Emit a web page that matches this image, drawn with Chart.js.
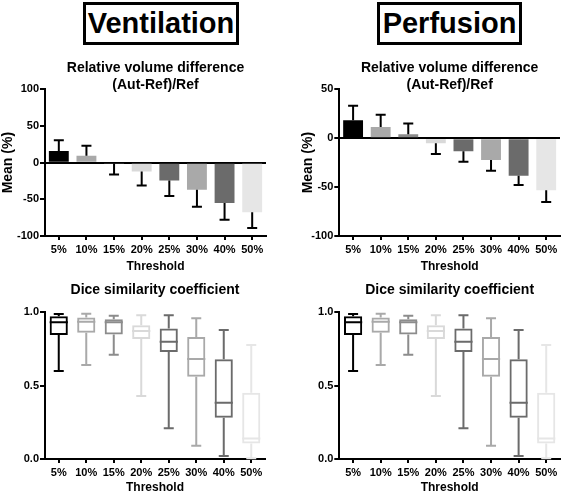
<!DOCTYPE html>
<html><head><meta charset="utf-8">
<script src="https://cdn.jsdelivr.net/npm/chart.js@4.4.0/dist/chart.umd.min.js"></script>
<style>
html,body{margin:0;padding:0;background:#fff;width:567px;height:496px;overflow:hidden;position:relative;font-family:"Liberation Sans",Arial,Helvetica,sans-serif;}
.hdr{position:absolute;top:2px;height:43px;box-sizing:border-box;border:3px solid #000;font-weight:bold;font-size:29px;line-height:37px;text-align:center;color:#000;}
canvas{position:absolute;}
</style></head><body>
<div class="hdr" style="left:83px;width:156px">Ventilation</div>
<div class="hdr" style="left:377px;width:145px">Perfusion</div>
<canvas id="c1" width="283" height="225" style="left:0;top:50px"></canvas>
<canvas id="c2" width="284" height="225" style="left:283px;top:50px"></canvas>
<canvas id="c3" width="283" height="221" style="left:0;top:275px"></canvas>
<canvas id="c4" width="284" height="221" style="left:283px;top:275px"></canvas>
<script>
// ---------- data ----------
const thresholds = ['5%','10%','15%','20%','25%','30%','40%','50%'];
const ventMean = [16, 9.5, -1, -12, -24.5, -37, -55, -67.5];
const ventSD   = [14.5, 13.5, 15, 19, 21, 23, 23, 21.5];
const perfMean = [18.3, 11.5, 4, -5.2, -13.4, -22.3, -38.3, -53.3];
const perfSD   = [15, 12.5, 11, 11, 10.6, 11, 9.5, 12];
const ventDiceMin = [0.60, 0.64, 0.71, 0.43, 0.21, 0.09, 0.02, 0.005];
const ventDiceQ1  = [0.845, 0.86, 0.848, 0.818, 0.73, 0.561, 0.282, 0.105];
const ventDiceMed = [0.932, 0.936, 0.932, 0.872, 0.80, 0.682, 0.384, 0.139];
const ventDiceQ3  = [0.973, 0.964, 0.953, 0.911, 0.89, 0.832, 0.68, 0.452];
const ventDiceMax = [0.988, 0.99, 0.977, 0.98, 0.98, 0.96, 0.88, 0.777];
const perfDiceMin = [0.60, 0.64, 0.71, 0.43, 0.21, 0.09, 0.02, 0.005];
const perfDiceQ1  = [0.845, 0.86, 0.848, 0.818, 0.73, 0.561, 0.282, 0.105];
const perfDiceMed = [0.932, 0.936, 0.932, 0.872, 0.80, 0.682, 0.384, 0.139];
const perfDiceQ3  = [0.973, 0.964, 0.953, 0.911, 0.89, 0.832, 0.68, 0.452];
const perfDiceMax = [0.988, 0.99, 0.977, 0.98, 0.98, 0.96, 0.88, 0.777];
const shades = ['#000000','#a9a9a9','#8c8c8c','#d9d9d9','#6b6b6b','#a9a9a9','#6b6b6b','#e6e6e6'];

const FONT = "'Liberation Sans', Arial, Helvetica, sans-serif";

// ---------- plugins ----------
const errorBars = {
  id: 'errorBars',
  afterDatasetsDraw(chart, args, opts) {
    if (!opts || !opts.sd) return;
    const meta = chart.getDatasetMeta(0);
    const ys = chart.scales.y, ctx = chart.ctx;
    const vals = chart.data.datasets[0].data;
    ctx.save();
    ctx.strokeStyle = '#000'; ctx.lineWidth = 2;
    meta.data.forEach((bar, i) => {
      const m = vals[i];
      const end = m + (m >= 0 ? 1 : -1) * opts.sd[i];
      const y0 = ys.getPixelForValue(m), y1 = ys.getPixelForValue(end);
      ctx.beginPath();
      ctx.moveTo(bar.x, y0); ctx.lineTo(bar.x, y1);
      ctx.moveTo(bar.x - 5, y1); ctx.lineTo(bar.x + 5, y1);
      ctx.stroke();
    });
    ctx.restore();
  }
};
const boxParts = {
  id: 'boxParts',
  afterDatasetsDraw(chart, args, opts) {
    if (!opts || !opts.med) return;
    const meta = chart.getDatasetMeta(0);
    const ys = chart.scales.y, ctx = chart.ctx;
    const vals = chart.data.datasets[0].data;
    ctx.save(); ctx.lineWidth = 2;
    meta.data.forEach((el, i) => {
      ctx.strokeStyle = shades[i];
      const half = el.width / 2;
      const yMed = ys.getPixelForValue(opts.med[i]);
      const yQ1 = ys.getPixelForValue(vals[i][0]);
      const yQ3 = ys.getPixelForValue(vals[i][1]);
      const yMin = ys.getPixelForValue(opts.min[i]);
      const yMax = ys.getPixelForValue(opts.max[i]);
      ctx.beginPath();
      ctx.moveTo(el.x - half, yMed); ctx.lineTo(el.x + half, yMed);
      ctx.moveTo(el.x, yQ3); ctx.lineTo(el.x, yMax);
      ctx.moveTo(el.x - 5, yMax); ctx.lineTo(el.x + 5, yMax);
      ctx.moveTo(el.x, yQ1); ctx.lineTo(el.x, yMin);
      ctx.moveTo(el.x - 5, yMin); ctx.lineTo(el.x + 5, yMin);
      ctx.stroke();
    });
    ctx.restore();
  }
};

// ---------- helpers ----------
function xScale(h) {
  return {
    type: 'category',
    ticks: { color: '#000', font: { family: FONT, weight: 'bold', size: 11 }, padding: 3, maxRotation: 0, autoSkip: false },
    grid: { offset: false, drawOnChartArea: false, tickColor: '#000', tickLength: 4, tickWidth: 2, lineWidth: 2, color: '#000' },
    border: { display: true, color: '#000', width: 2 },
    title: { display: true, text: 'Threshold', color: '#000', font: { family: FONT, weight: 'bold', size: 12 }, padding: { top: 0, bottom: 1 } },
    afterFit(s) { s.height = h; }
  };
}
function yScale(min, max, step, w, zeroLine, title, fmt) {
  return {
    min: min, max: max,
    ticks: { stepSize: step, color: '#000', font: { family: FONT, weight: 'bold', size: 11 }, padding: 1,
             callback: fmt || (v => v) },
    grid: { color: c => (zeroLine && c.tick && c.tick.value === 0) ? '#000' : 'rgba(0,0,0,0)',
            lineWidth: 2, tickColor: '#000', tickLength: 5, tickWidth: 2 },
    border: { display: true, color: '#000', width: 2 },
    title: { display: !!title, text: title || '', color: '#000', font: { family: FONT, weight: 'bold', size: 14 }, padding: 0 },
    afterFit(s) { s.width = w; }
  };
}
function titleOpts(text, pt, pb) {
  return { display: true, text: text, fullSize: false, color: '#000',
           font: { family: FONT, weight: 'bold', size: 14, lineHeight: '17px' },
           padding: { top: pt, bottom: pb } };
}

function barChart(id, means, sds, ymax, padL, padR, yW) {
  return new Chart(document.getElementById(id), {
    type: 'bar',
    data: { labels: thresholds, datasets: [{ data: means, backgroundColor: shades, borderWidth: 0,
            categoryPercentage: 1, barPercentage: 0.72 }] },
    options: {
      responsive: false, animation: false, devicePixelRatio: 1,
      layout: { padding: { left: padL, right: padR, top: 0, bottom: 0 } },
      plugins: { legend: { display: false }, tooltip: { enabled: false },
                 title: titleOpts(['Relative volume difference', '(Aut-Ref)/Ref'], 9.5, -4.2),
                 errorBars: { sd: sds } },
      scales: { x: xScale(39), y: yScale(-100, ymax, 50, yW, true, 'Mean (%)') }
    },
    plugins: [errorBars]
  });
}
function boxChart(id, q1, q3, med, mn, mx, padR, yW) {
  const boxes = q1.map((v, i) => [v, q3[i]]);
  return new Chart(document.getElementById(id), {
    type: 'bar',
    data: { labels: thresholds, datasets: [{ data: boxes, backgroundColor: 'rgba(255,255,255,0)', borderColor: shades,
            borderWidth: 2, borderSkipped: false, categoryPercentage: 1, barPercentage: 0.66 }] },
    options: {
      responsive: false, animation: false, devicePixelRatio: 1,
      layout: { padding: { left: 0, right: padR, top: 0, bottom: 0 } },
      plugins: { legend: { display: false }, tooltip: { enabled: false },
                 title: titleOpts('Dice similarity coefficient', 6.5, 13.8),
                 boxParts: { med: med, min: mn, max: mx } },
      scales: { x: xScale(37), y: yScale(0, 1, 0.5, yW, false, null, v => Number(v).toFixed(1)) }
    },
    plugins: [boxParts]
  });
}

barChart('c1', ventMean, ventSD, 100, 0, 17, 45);
barChart('c2', perfMean, perfSD, 50, 16.8, 7, 39.5);
boxChart('c3', ventDiceQ1, ventDiceQ3, ventDiceMed, ventDiceMin, ventDiceMax, 18, 45);
boxChart('c4', perfDiceQ1, perfDiceQ3, perfDiceMed, perfDiceMin, perfDiceMax, 7, 56.3);
</script>
</body></html>
